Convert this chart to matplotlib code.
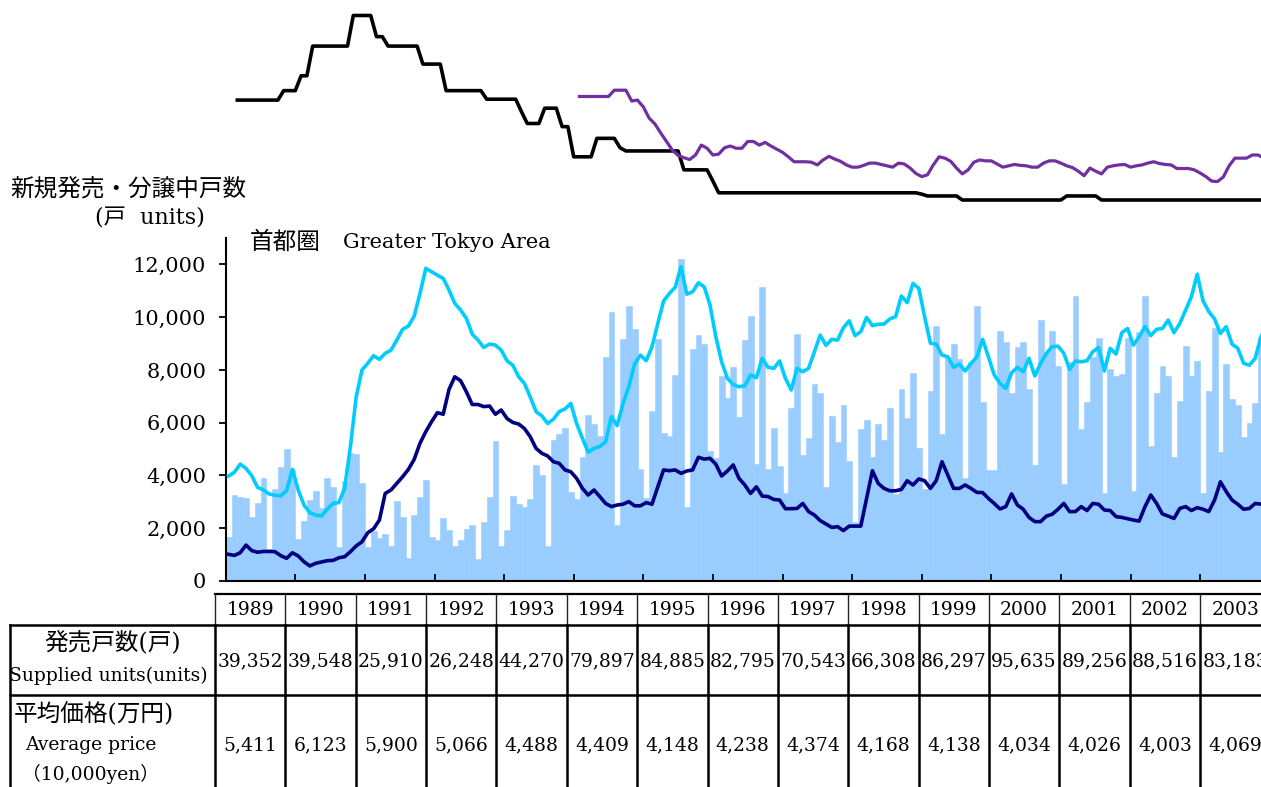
import numpy as np
import matplotlib
matplotlib.use("Agg")
import matplotlib.pyplot as plt
from matplotlib.ticker import FuncFormatter

plt.rcParams['font.family'] = ['DejaVu Serif', 'Noto Sans CJK JP']

W, H = 1261, 787

# ---- monthly data, Jan 1989 .. Dec 2003 (one row per year) ----
supply = [  # 新規発売戸数 (bars)
    1650, 3250, 3170, 3140, 2420, 2970, 3910, 1230, 3500, 4310, 5000, 4250,
    1590, 2260, 3070, 3410, 2760, 3900, 3570, 1290, 3800, 4850, 4800, 3700,
    1290, 1880, 1620, 1790, 1330, 3020, 2410, 890, 2520, 3170, 3830, 1670,
    1540, 2370, 1920, 1330, 1570, 1970, 2130, 830, 2250, 3190, 5290, 1330,
    1920, 3220, 2900, 2800, 3090, 4390, 4000, 1330, 5330, 5560, 5810, 3390,
    3090, 4710, 6290, 5940, 5510, 8500, 10180, 2120, 9180, 10420, 9550, 4240,
    3130, 6440, 9180, 5620, 5490, 7810, 12190, 2820, 8790, 9320, 8990, 4940,
    4650, 7770, 6930, 8110, 6200, 9130, 10040, 4430, 11140, 4240, 5790, 4360,
    3320, 6540, 9350, 4770, 5410, 7460, 7110, 3570, 6260, 5270, 6670, 4560,
    2250, 5760, 6100, 4710, 5950, 5340, 6560, 3300, 7260, 6190, 7880, 5050,
    3470, 7200, 9660, 5560, 8500, 9000, 8400, 3890, 8300, 10430, 6800, 4210,
    4210, 9490, 9070, 7110, 8880, 9070, 7280, 4400, 9890, 8630, 9490, 8150,
    3680, 8310, 10800, 5750, 6770, 8480, 9200, 3320, 8020, 7770, 7830, 9200,
    3410, 9450, 10800, 5120, 7110, 8160, 7780, 4710, 6820, 8900, 7780, 8350,
    3320, 7210, 9570, 4880, 8220, 6880, 6670, 5470, 6000, 6730, 9260, 8970,
]
stock = [  # 分譲中戸数 (cyan)
    3980, 4120, 4430, 4270, 3990, 3550, 3450, 3300, 3250, 3230, 3420, 4230,
    3450, 2880, 2590, 2500, 2460, 2720, 2940, 2970, 3510, 5090, 6980, 8000,
    8250, 8540, 8400, 8630, 8750, 9130, 9540, 9660, 10040, 10900, 11850, 11720,
    11590, 11470, 11030, 10520, 10270, 9950, 9360, 9130, 8850, 8980, 8940, 8750,
    8350, 8180, 7740, 7490, 6980, 6420, 6260, 5970, 6130, 6420, 6520, 6730,
    5970, 5410, 4880, 5030, 5090, 5280, 6230, 5890, 6730, 7360, 8220, 8560,
    8350, 8880, 9760, 10610, 10900, 11130, 11910, 10870, 10960, 11300, 11150, 10460,
    9260, 8310, 7680, 7450, 7360, 7400, 7810, 7700, 8440, 8100, 8060, 8340,
    7680, 7240, 8060, 7930, 8060, 8690, 9320, 8930, 9160, 9130, 9600, 9860,
    9300, 9450, 9990, 9680, 9730, 9740, 9930, 10020, 10800, 10550, 11280, 11090,
    10020, 9010, 8980, 8560, 8500, 8100, 8220, 7960, 8250, 8480, 9160, 8500,
    7810, 7490, 7300, 7890, 8100, 7930, 8440, 7770, 8250, 8630, 8880, 8900,
    8630, 8020, 8340, 8310, 8350, 8690, 8850, 7960, 8820, 8600, 9410, 9570,
    8940, 9260, 9640, 9300, 9540, 9570, 9890, 9410, 9760, 10270, 10770, 11630,
    10620, 10210, 9930, 9380, 9640, 8980, 8820, 8250, 8180, 8440, 9260, 9700,
]
navy = [  # navy line
    1010, 970, 1070, 1360, 1150, 1090, 1120, 1120, 1110, 960, 860, 1070,
    950, 730, 570, 670, 720, 770, 780, 880, 920, 1110, 1330, 1490,
    1830, 1980, 2310, 3320, 3450, 3700, 3950, 4230, 4610, 5220, 5660, 6040,
    6380, 6320, 7260, 7740, 7590, 7170, 6690, 6690, 6610, 6630, 6320, 6480,
    6160, 6010, 5950, 5780, 5470, 5030, 4840, 4740, 4520, 4460, 4210, 4140,
    3890, 3510, 3260, 3450, 3200, 2940, 2820, 2880, 2910, 3010, 2850, 2850,
    2970, 2910, 3570, 4210, 4180, 4210, 4080, 4170, 4210, 4690, 4620, 4650,
    4430, 3980, 4170, 4400, 3890, 3640, 3320, 3570, 3220, 3200, 3090, 3070,
    2740, 2740, 2750, 2940, 2630, 2500, 2290, 2160, 2030, 2060, 1910, 2080,
    2080, 2080, 3130, 4180, 3700, 3510, 3420, 3420, 3470, 3800, 3640, 3870,
    3800, 3510, 3800, 4520, 4020, 3510, 3510, 3640, 3510, 3360, 3350, 3130,
    2940, 2730, 2820, 3300, 2880, 2720, 2410, 2250, 2250, 2460, 2530, 2720,
    2940, 2630, 2630, 2820, 2670, 2940, 2910, 2690, 2670, 2440, 2410, 2360,
    2310, 2270, 2820, 3260, 2940, 2540, 2460, 2370, 2750, 2820, 2670, 2780,
    2720, 2630, 3070, 3760, 3390, 3070, 2910, 2720, 2750, 2940, 2910, 2900,
]

# upper panel: rates (%), black line is a step series -> (first month, level)
black_start = [2, 10, 13, 15, 22, 26, 28, 34, 38, 45, 51, 52, 55, 58, 60, 64,
               68, 69, 79, 84, 85, 120, 121, 127, 145, 151]
black_rate = [4.72, 4.93, 5.26, 5.92, 6.60, 6.13, 5.92, 5.52, 4.93, 4.74, 4.46,
              4.20, 4.54, 4.13, 3.46, 3.87, 3.66, 3.59, 3.17, 2.92, 2.66, 2.63,
              2.59, 2.50, 2.59, 2.50]
black_end = 182
purple_first = 61  # Feb 1994
purple_rate = [
    4.80, 4.80, 4.80, 4.80, 4.80, 4.80, 4.94, 4.94, 4.94, 4.70, 4.72,
    4.57, 4.32, 4.19, 3.99, 3.80, 3.61, 3.49, 3.44, 3.40, 3.50, 3.72, 3.65,
    3.50, 3.52, 3.66, 3.70, 3.65, 3.65, 3.80, 3.80, 3.72, 3.78, 3.70, 3.63,
    3.56, 3.46, 3.35, 3.35, 3.35, 3.34, 3.28, 3.39, 3.47, 3.41, 3.36, 3.28,
    3.23, 3.23, 3.27, 3.32, 3.32, 3.29, 3.26, 3.23, 3.32, 3.30, 3.21, 3.09,
    3.02, 3.06, 3.28, 3.46, 3.43, 3.36, 3.21, 3.08, 3.17, 3.34, 3.39, 3.37,
    3.37, 3.30, 3.23, 3.26, 3.29, 3.27, 3.26, 3.23, 3.23, 3.32, 3.37, 3.37,
    3.32, 3.26, 3.22, 3.14, 3.04, 3.21, 3.14, 3.08, 3.23, 3.26, 3.28, 3.29,
    3.23, 3.26, 3.28, 3.32, 3.35, 3.31, 3.29, 3.28, 3.20, 3.20, 3.20, 3.17,
    3.10, 3.02, 2.92, 2.91, 3.01, 3.26, 3.43, 3.43, 3.43, 3.50, 3.50, 3.43,
]

# table
years = list(range(1989, 2004))
supplied_units = [39352, 39548, 25910, 26248, 44270, 79897, 84885, 82795,
                  70543, 66308, 86297, 95635, 89256, 88516, 83183]
avg_price = [5411, 6123, 5900, 5066, 4488, 4409, 4148, 4238, 4374, 4168,
             4138, 4034, 4026, 4003, 4069]

# ---- figure ----
fig = plt.figure(figsize=(W / 100, H / 100), dpi=100)

n = len(supply)
m = np.arange(n)

# main plot area in pixels
x0, x1 = 225.7, 225.7 + 5.8 * 180
y_top, y_bot = 238, 581
ax = fig.add_axes([x0 / W, 1 - y_bot / H, (x1 - x0) / W, (y_bot - y_top) / H])
ax.bar(m + 0.5, supply, width=1.0, color='#99CCFF', edgecolor='#99CCFF', lw=0.4, zorder=1)
ax.plot(m + 0.5, stock, color='#00CCFF', lw=2.6, zorder=3)
ax.plot(m + 0.5, navy, color='#000080', lw=2.6, zorder=4)
ax.set_xlim(0, 180)
ax.set_ylim(0, 13000)
ax.set_yticks(range(0, 12001, 2000))
ax.yaxis.set_major_formatter(FuncFormatter(lambda v, p: f"{int(v):,}"))
ax.set_xticks(range(0, 181, 12))
ax.set_xticklabels([])
ax.tick_params(axis='y', direction='out', length=5, width=1.3, labelsize=15, pad=9)
ax.tick_params(axis='x', direction='in', length=5, width=1.3)
for s in ['top', 'right']:
    ax.spines[s].set_visible(False)
for s in ['left', 'bottom']:
    ax.spines[s].set_linewidth(1.5)
ax.patch.set_alpha(0)

# upper panel (rates)
axt = fig.add_axes([x0 / W, 1 - 210 / H, (x1 - x0) / W, 210 / H])
counts = np.diff(black_start + [black_end])
black_m = np.arange(black_start[0], black_end)
axt.plot(black_m, np.repeat(black_rate, counts), color='black', lw=2.6)
axt.plot(np.arange(purple_first, purple_first + len(purple_rate)), purple_rate,
         color='#7030A0', lw=2.3)
axt.set_xlim(0, 180)
axt.set_ylim(2.278, 6.944)
axt.axis('off')

# overlay for text and table, pixel coordinates
ov = fig.add_axes([0, 0, 1, 1])
ov.set_xlim(0, W)
ov.set_ylim(H, 0)
ov.axis('off')

cjk = 17
ov.text(10, 190, '新規発売・分譲中戸数', fontsize=cjk, va='center', ha='left')
ov.text(95, 219, '(戸  units)', fontsize=16, va='center', ha='left')
ov.text(250, 242, '首都圏', fontsize=cjk, va='center', ha='left')
ov.text(343, 242, 'Greater Tokyo Area', fontsize=15, va='center', ha='left')

tab_left, col_w, lab_left = 215, 70.36, 10
edges = tab_left + col_w * np.arange(len(years) + 1)
r0, r1, r2, r3 = 594, 625, 695, H + 5
ov.plot([edges[0], edges[-1]], [r0, r0], color='black', lw=1.6)
for e in edges:
    ov.plot([e, e], [r0, r1], color='#222222', lw=1.0)
ov.plot([lab_left, edges[-1]], [r1, r1], color='black', lw=1.8)
ov.plot([lab_left, edges[-1]], [r2, r2], color='black', lw=1.8)
for e in [lab_left] + list(edges):
    ov.plot([e, e], [r1, r3], color='black', lw=1.8)

num = 13.5
for i, yr in enumerate(years):
    cx = edges[i] + col_w / 2
    ov.text(cx, 610, str(yr), fontsize=num, ha='center', va='center')
    ov.text(cx, 661, f"{supplied_units[i]:,}", fontsize=num, ha='center', va='center')
    ov.text(cx, 745, f"{avg_price[i]:,}", fontsize=num, ha='center', va='center')

ov.text(113, 643, '発売戸数(戸)', fontsize=cjk, ha='center', va='center')
ov.text(108, 676, 'Supplied units(units)', fontsize=num, ha='center', va='center')
ov.text(14, 714, '平均価格(万円)', fontsize=cjk, ha='left', va='center')
ov.text(25, 745, 'Average price', fontsize=num, ha='left', va='center')
ov.text(22, 774, '（10,000yen）', fontsize=num, ha='left', va='center')

fig.savefig('out.png', dpi=100)
